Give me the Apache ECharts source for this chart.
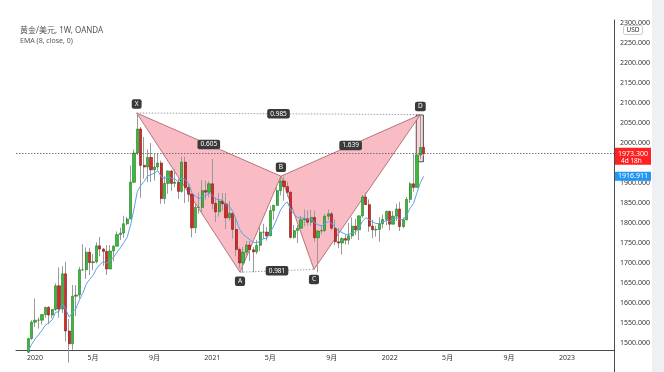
<!DOCTYPE html>
<html><head><meta charset="utf-8">
<script src="https://cdn.jsdelivr.net/npm/echarts@6/dist/echarts.min.js"></script>
<style>html,body{margin:0;padding:0;background:#fff}#c{width:664px;height:372px}</style>
</head><body><div id="c"></div>
<script>
// Weekly XAU/USD candles, index 0 = week of 2019-12-23
const opens = [1477,1511,1552,1557,1557,1571,1589,1570,1584,1643,
1585,1673,1530,1498,1617,1620,1683,1683,1727,1701,
1703,1743,1735,1729,1685,1730,1742,1771,1775,1798,
1810,1902,1975,2035,1944,1940,1964,1933,1940,1950,
1861,1899,1930,1899,1902,1879,1952,1889,1872,1788,
1839,1839,1881,1877,1898,1849,1828,1855,1848,1813,
1824,1784,1734,1700,1727,1745,1733,1728,1744,1777,
1777,1768,1831,1844,1881,1905,1891,1877,1764,1781,
1787,1808,1811,1802,1814,1763,1780,1781,1817,1823,
1787,1753,1750,1761,1757,1768,1792,1783,1818,1865,
1846,1792,1783,1784,1798,1809,1829,1797,1817,1835,
1791,1808,1859,1898,1889,1970,1989];
const highs = [1513,1557,1611,1564,1573,1591,1592,1584,1649,1689,
1692,1703,1560,1645,1645,1690,1747,1739,1738,1723,
1752,1765,1737,1745,1745,1745,1779,1788,1818,1815,
1944,1984,2075,2040,2015,1984,2000,1972,1973,1956,
1917,1931,1933,1934,1911,1966,1966,1900,1875,1848,
1876,1907,1906,1904,1960,1864,1875,1875,1875,1855,
1826,1816,1739,1740,1755,1755,1740,1758,1790,1798,
1790,1843,1846,1890,1913,1916,1903,1879,1795,1795,
1818,1834,1832,1833,1831,1783,1795,1823,1834,1828,
1809,1787,1764,1771,1800,1814,1810,1818,1870,1877,
1859,1808,1793,1815,1821,1831,1831,1830,1848,1853,
1814,1865,1902,1974,1974,2070,1990];
const lows = [1475,1508,1540,1536,1546,1563,1547,1562,1580,1563,
1575,1504,1451,1483,1567,1611,1680,1660,1670,1682,
1699,1717,1693,1670,1685,1704,1742,1757,1763,1795,
1810,1900,1970,1863,1911,1902,1902,1906,1932,1848,
1848,1873,1880,1890,1860,1876,1850,1853,1764,1775,
1823,1826,1858,1864,1834,1803,1816,1831,1785,1806,
1761,1717,1687,1676,1719,1705,1677,1722,1730,1760,
1756,1767,1808,1843,1869,1856,1866,1761,1761,1750,
1785,1792,1794,1792,1753,1677,1772,1778,1808,1782,
1745,1737,1721,1746,1746,1760,1770,1758,1813,1845,
1778,1762,1766,1753,1787,1795,1782,1797,1805,1780,
1788,1807,1850,1878,1889,1960,1968];
const closes = [1511,1552,1557,1557,1571,1589,1570,1584,1643,1585,
1673,1530,1498,1617,1620,1683,1683,1727,1701,1703,
1743,1735,1729,1685,1730,1742,1771,1775,1798,1810,
1902,1975,2035,1944,1940,1964,1933,1940,1950,1861,
1899,1930,1899,1902,1879,1952,1889,1872,1788,1839,
1839,1881,1877,1898,1849,1828,1855,1848,1813,1824,
1784,1734,1700,1727,1745,1733,1728,1744,1777,1777,
1768,1831,1844,1881,1905,1891,1877,1764,1781,1787,
1808,1811,1802,1814,1763,1780,1781,1817,1823,1787,
1753,1750,1761,1757,1768,1792,1783,1818,1865,1846,
1792,1783,1784,1798,1809,1829,1797,1817,1835,1791,
1808,1859,1898,1889,1970,1989,1973.3];
const ema8 = [1480.7,1496.5,1510.0,1520.4,1531.6,1544.4,1550.1,1557.6,1576.6,1578.5,
1599.5,1584.0,1564.9,1576.5,1586.2,1607.7,1624.4,1647.2,1659.2,1668.9,
1685.4,1696.4,1703.6,1699.5,1706.3,1714.2,1726.8,1737.5,1751.0,1764.1,
1794.7,1834.8,1879.3,1893.7,1904.0,1917.3,1920.8,1925.1,1930.6,1915.1,
1911.5,1915.6,1911.9,1909.7,1902.9,1913.8,1908.3,1900.2,1875.3,1867.2,
1860.9,1865.4,1868.0,1874.7,1869.0,1859.9,1858.8,1856.4,1846.8,1841.7,
1828.9,1807.8,1783.8,1771.2,1765.4,1758.2,1751.5,1749.8,1755.8,1760.5,
1762.2,1777.5,1792.3,1812.0,1832.7,1845.6,1852.6,1832.9,1821.4,1813.7,
1812.5,1812.1,1809.9,1810.8,1800.2,1795.7,1792.4,1797.9,1803.5,1799.8,
1789.4,1780.7,1776.3,1772.0,1771.1,1775.7,1777.4,1786.4,1803.9,1813.2,
1808.5,1802.8,1798.7,1798.5,1800.8,1807.1,1804.9,1807.5,1813.7,1808.6,
1808.5,1819.7,1837.1,1848.7,1875.6,1900.8,1916.9];

const tickWeeks = [2,19,37,54,71,89,106,123,141,158];
const tickLabels = ['2020','5月','9月','2021','5月','9月','2022','5月','9月','2023'];
const priceTicks = [1500,1550,1600,1650,1700,1750,1800,1850,1900,2000,2050,2100,2150,2200,2250,2300];

const patternNames = ['X','A','B','C','D'];
const patternWeek = [31.8,62.1,74.1,83.8,115];
const patternPrice = [2075,1677,1917,1684,2071];
const ratioLabels = ['0.605','0.981','1.639','0.985'];
const ratioPairs = [[0,2],[1,3],[2,4],[0,4]];
const boxWeeks = [113.8,115.9];
const boxPrices = [2070,1953];

const lastPrice = 1973.3;
const countdown = '4d 18h';
const emaLast = 1916.911;
const titleText = '黄金/美元, 1W, OANDA';
const indicatorText = 'EMA (8, close, 0)';

const FONT = "'Noto Sans','Noto Sans CJK SC',sans-serif";
const labelOffset = [-9, 9, -9, 10, -8];

const wickData = opens.map((o, i) => [i, o, closes[i], lows[i], highs[i]]);
const bodyData = opens.map((o, i) => [i, o, closes[i], Math.min(o, closes[i]), Math.max(o, closes[i])]);
const emaData = ema8.map((v, i) => [i, v]);

const chart = echarts.init(document.getElementById('c'), null, {renderer: 'canvas'});
chart.setOption({
  animation: false,
  backgroundColor: '#ffffff',
  grid: {left: 16, right: 50, top: 20, bottom: 22, containLabel: false, outerBoundsMode: 'none'},
  xAxis: {
    type: 'value', min: -3.6, max: 171.8,
    axisLine: {show: true, onZero: false, lineStyle: {color: '#4a4a4a', width: 1}},
    axisTick: {show: false},
    splitLine: {show: false},
    axisLabel: {
      customValues: tickWeeks,
      formatter: v => { const k = tickWeeks.indexOf(Math.round(v)); return k >= 0 ? tickLabels[k] : ''; },
      fontSize: 7, color: '#333', margin: 4, fontFamily: FONT
    }
  },
  yAxis: {
    type: 'value', position: 'right', min: 1482.5, max: 2307.5, scale: true,
    axisLine: {show: true, onZero: false, lineStyle: {color: '#4a4a4a', width: 1}},
    axisTick: {show: false},
    splitLine: {show: false},
    axisLabel: {
      customValues: priceTicks,
      formatter: v => v.toFixed(3),
      fontSize: 7, color: '#333', margin: 6, fontFamily: FONT
    }
  },
  series: [
    {
      type: 'custom', z: 1, silent: true, clip: false,
      data: [[patternWeek[0], patternPrice[0]]],
      renderItem: (params, api) => {
        const P = patternWeek.map((w, k) => api.coord([w, patternPrice[k]]));
        const poly = pts => ({type: 'polygon', shape: {points: pts},
          style: {fill: '#f9bcc4', stroke: '#a35a66', lineWidth: 0.8}});
        const dot = (a, b) => ({type: 'line', shape: {x1: a[0], y1: a[1], x2: b[0], y2: b[1]},
          style: {stroke: '#8a8a8a', lineWidth: 0.8, lineDash: [1.5, 1.5]}});
        return {type: 'group', children: [
          poly([P[0], P[1], P[2]]), poly([P[2], P[3], P[4]]),
          dot(P[0], P[4]), dot(P[1], P[3])
        ]};
      }
    },
    {
      type: 'candlestick', z: 2, barWidth: 1, silent: true, clip: true,
      data: wickData,
      itemStyle: {color: '#9a9a9a', color0: '#9a9a9a', borderColor: '#9a9a9a', borderColor0: '#9a9a9a', borderWidth: 1}
    },
    {
      type: 'candlestick', z: 3, barWidth: 2.7, silent: true, clip: true,
      data: bodyData,
      itemStyle: {color: '#3db83d', color0: '#d42a2a', borderColor: '#1f7a25', borderColor0: '#7d1414', borderWidth: 0.6},
      markArea: {
        silent: true,
        itemStyle: {color: 'rgba(240,130,145,0.35)', borderColor: '#2a2a2a', borderWidth: 0.8},
        data: [[{coord: [boxWeeks[0], boxPrices[0]]}, {coord: [boxWeeks[1], boxPrices[1]]}]]
      }
    },
    {
      type: 'line', z: 4, data: emaData, showSymbol: false, symbol: 'none', silent: true, clip: true,
      lineStyle: {color: '#5aa3e0', width: 1},
      markLine: {
        silent: true, symbol: 'none', label: {show: false},
        lineStyle: {color: '#555', type: [1.5, 1.5], width: 0.8},
        data: [{yAxis: lastPrice}]
      }
    },
    {
      type: 'custom', z: 6, silent: true, clip: false,
      data: [[patternWeek[0], patternPrice[0]]],
      renderItem: (params, api) => {
        const P = patternWeek.map((w, k) => api.coord([w, patternPrice[k]]));
        const box = (x, y, t) => ({type: 'text', x: x, y: y,
          style: {text: t, fill: '#fff', font: '6.5px ' + FONT, align: 'center', verticalAlign: 'middle',
            backgroundColor: '#3a3a3a', borderRadius: 2, padding: [1.5, 3]}});
        const kids = [];
        ratioPairs.forEach((pr, k) => {
          const a = P[pr[0]], b = P[pr[1]];
          kids.push(box((a[0] + b[0]) / 2, (a[1] + b[1]) / 2, ratioLabels[k]));
        });
        P.forEach((p, k) => kids.push(box(p[0], p[1] + labelOffset[k], patternNames[k])));
        return {type: 'group', children: kids};
      }
    }
  ]
});

const py = chart.convertToPixel({yAxisIndex: 0}, lastPrice);
const pe = chart.convertToPixel({yAxisIndex: 0}, emaLast);
chart.setOption({
  graphic: [
    {type: 'rect', left: 652, top: 0, z: 50, shape: {width: 12, height: 372}, style: {fill: '#eef0f3'}},
    {type: 'rect', left: 616, top: 0, z: 50, shape: {width: 36, height: 19}, style: {fill: '#fff'}},
    {type: 'rect', z: 51, shape: {x: 623.5, y: 25.5, width: 19, height: 9, r: 2}, style: {fill: '#fff', stroke: '#bdbdbd', lineWidth: 0.8}},
    {type: 'text', z: 52, x: 633, y: 30, style: {text: 'USD', fill: '#333', font: '6.5px ' + FONT, align: 'center', verticalAlign: 'middle'}},
    {type: 'line', z: 50, shape: {x1: 614.5, y1: 350, x2: 614.5, y2: 372}, style: {stroke: '#4a4a4a', lineWidth: 1}},
    {type: 'rect', z: 51, shape: {x: 615, y: py - 6, width: 36, height: 17}, style: {fill: '#ff2121'}},
    {type: 'text', z: 52, x: 633, y: py, style: {text: lastPrice.toFixed(3), fill: '#fff', font: '7px ' + FONT, align: 'center', verticalAlign: 'middle'}},
    {type: 'text', z: 52, x: 621, y: py + 7.5, style: {text: countdown, fill: '#fff', font: '6.5px ' + FONT, align: 'left', verticalAlign: 'middle'}},
    {type: 'rect', z: 51, shape: {x: 615, y: pe - 4.5, width: 36, height: 9}, style: {fill: '#2196f3'}},
    {type: 'text', z: 52, x: 633, y: pe, style: {text: emaLast.toFixed(3), fill: '#fff', font: '7px ' + FONT, align: 'center', verticalAlign: 'middle'}},
    {type: 'text', z: 52, left: 20, top: 27, style: {text: titleText, fill: '#555', font: '8px ' + FONT}},
    {type: 'text', z: 52, left: 20, top: 38, style: {text: indicatorText, fill: '#555', font: '7px ' + FONT}}
  ]
});
</script></body></html>
